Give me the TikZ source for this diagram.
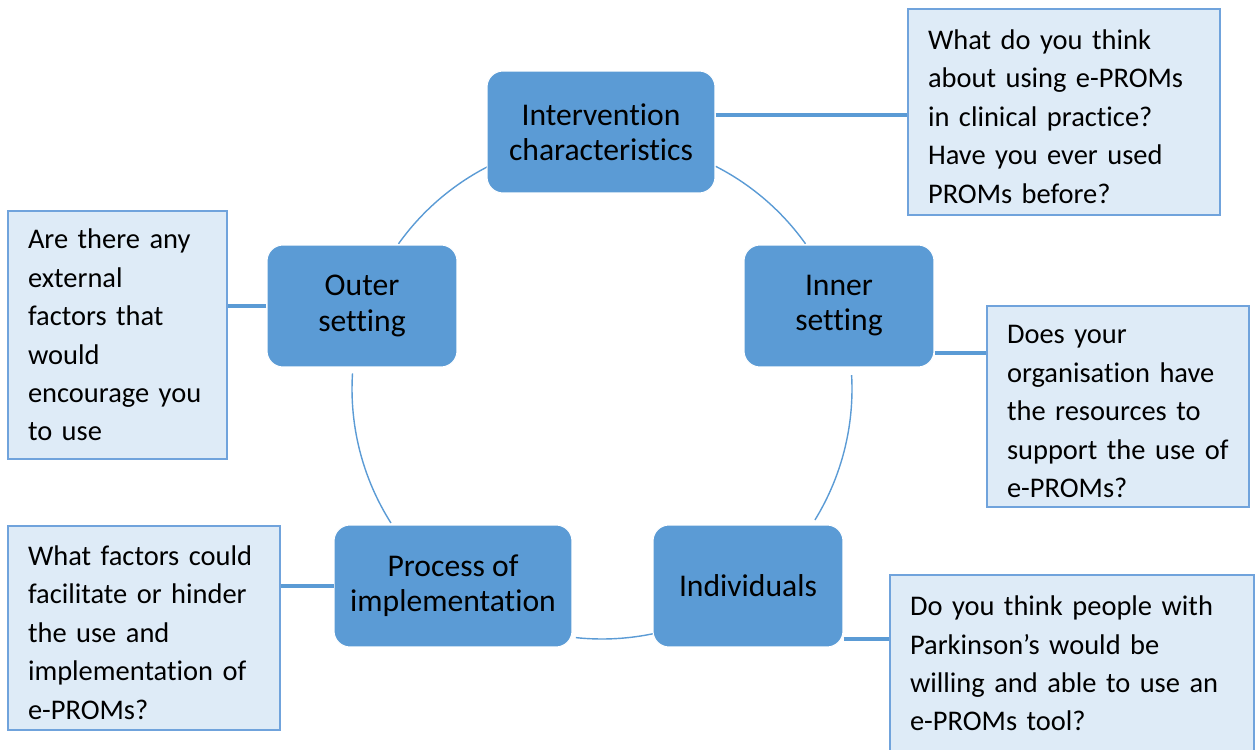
\documentclass[tikz,border=0pt]{standalone}
\usepackage{fontspec}
\setmainfont{Carlito}[Ligatures=NoCommon]
\usepackage{tikz}
\usetikzlibrary{calc}
\definecolor{boxblue}{RGB}{91,155,213}
\definecolor{notebg}{RGB}{222,235,247}
\definecolor{noteline}{RGB}{112,163,220}
\newcommand{\qtop}{\rule{0pt}{0.58cm}}

\begin{document}
\begin{tikzpicture}[
    x=0.02cm, y=-0.02cm,
    domainbox/.style={fill=boxblue, draw=white, line width=0.6pt, rounded corners=0.32cm, align=center, font=\fontsize{18}{20}\selectfont, minimum height=2.44cm, inner sep=0pt},
    note/.style={fill=notebg, draw=noteline, line width=0.9pt, align=left, font=\fontsize{16.2}{21.9}\selectfont, inner xsep=0.40cm, inner ysep=0pt},
    link/.style={boxblue, line width=2.4pt},
    ring/.style={boxblue, line width=0.8pt}
]
    \useasboundingbox (0,0) rectangle (1258,750);

    % Cycle arcs
    \coordinate (hub) at (602,389);
    \draw[ring] (hub) ++(215.5:250) arc[start angle=215.5, end angle=243, radius=250];
    \draw[ring] (hub) ++(297:250) arc[start angle=297, end angle=324.5, radius=250];
    \draw[ring] (hub) ++(-3.2:250) arc[start angle=-3.2, end angle=31.6, radius=250];
    \draw[ring] (hub) ++(77.6:250) arc[start angle=77.6, end angle=96, radius=250];
    \draw[ring] (hub) ++(147.6:250) arc[start angle=147.6, end angle=183.6, radius=250];

    % Domains
    \node[domainbox, minimum width=4.56cm] (interv) at (601,132) {Intervention\\characteristics};
    \node[domainbox, minimum width=3.8cm] (inner) at (839,306) {Inner\\setting};
    \node[domainbox, minimum width=3.8cm] (indiv) at (748,586) {Individuals};
    \node[domainbox, minimum width=4.76cm] (process) at (453,586) {Process of\\implementation};
    \node[domainbox, minimum width=3.8cm] (outer) at (362,306) {Outer\\setting};

    % Questions
    \node[note, text width=5.44cm, minimum height=4.12cm] (qinterv) at (1064,112) {\qtop What do you think\\about using e-PROMs\\in clinical practice?\\Have you ever used\\PROMs before?};
    \node[note, text width=4.44cm, minimum height=4.02cm] (qinner) at (1118,406.5) {\qtop Does your\\organisation have\\the resources to\\support the use of\\e-PROMs?};
    \node[note, text width=6.48cm, minimum height=3.54cm] (qindiv) at (1072,663.5) {Do you think people with\\Parkinson’s would be\\willing and able to use an\\e-PROMs tool?};
    \node[note, text width=4.64cm, minimum height=4.08cm] (qprocess) at (144,628) {\qtop What factors could\\facilitate or hinder\\the use and\\implementation of\\e-PROMs?};
    \node[note, text width=3.58cm, minimum height=4.96cm] (qouter) at (117.5,335) {Are there any\\external\\factors that\\would\\encourage you\\to use};

    % Links
    \coordinate (j1) at ([yshift=0.34cm]interv.east);
    \draw[link] (j1) -- (j1 -| qinterv.west);
    \coordinate (j2) at ([yshift=-0.94cm]inner.east);
    \draw[link] (j2) -- (j2 -| qinner.west);
    \coordinate (j3) at ([yshift=-1.06cm]indiv.east);
    \draw[link] (j3) -- (j3 -| qindiv.west);
    \draw[link] (process.west) -- (process.west -| qprocess.east);
    \draw[link] (outer.west) -- (outer.west -| qouter.east);

\end{tikzpicture}
\end{document}
